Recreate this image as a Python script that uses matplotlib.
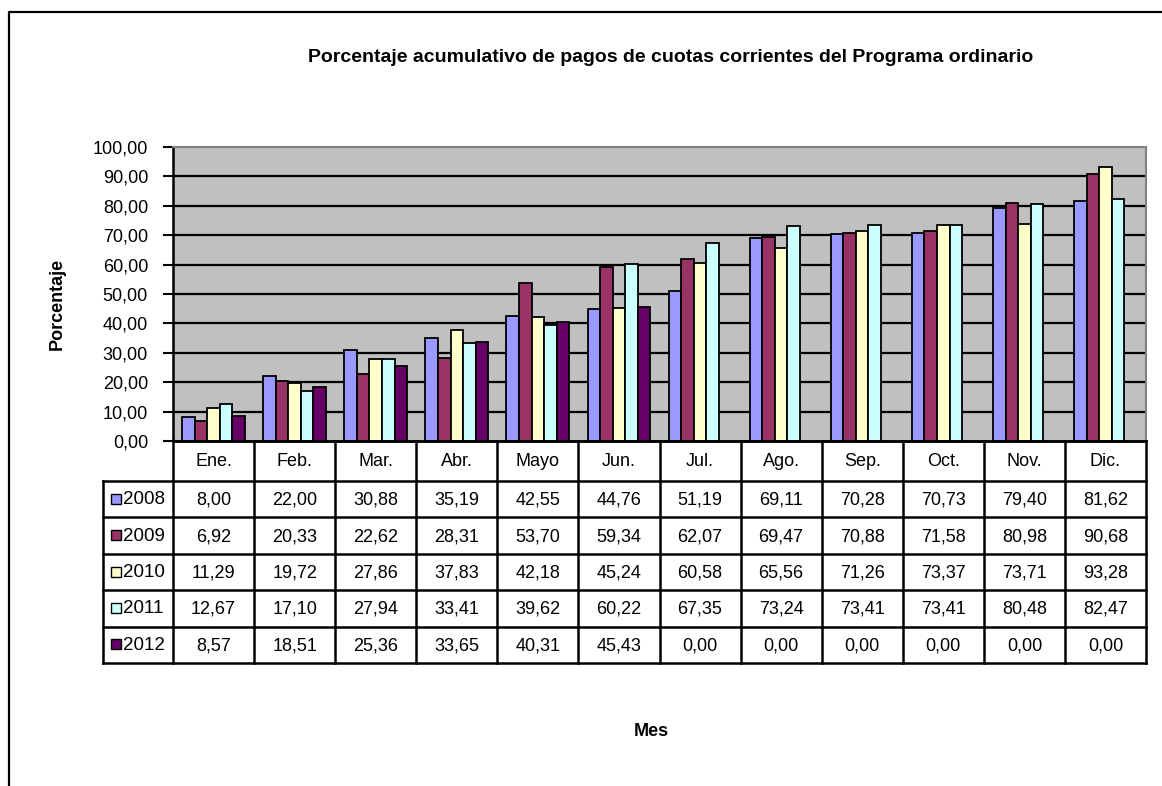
import matplotlib
matplotlib.use("Agg")
import matplotlib.pyplot as plt
import numpy as np
from matplotlib.lines import Line2D
from matplotlib.patches import Rectangle

plt.rcParams["font.family"] = ["Liberation Sans", "DejaVu Sans"]

months = ["Ene.", "Feb.", "Mar.", "Abr.", "Mayo", "Jun.", "Jul.", "Ago.",
          "Sep.", "Oct.", "Nov.", "Dic."]
years = ["2008", "2009", "2010", "2011", "2012"]
v2008 = [8.00, 22.00, 30.88, 35.19, 42.55, 44.76, 51.19, 69.11, 70.28, 70.73, 79.40, 81.62]
v2009 = [6.92, 20.33, 22.62, 28.31, 53.70, 59.34, 62.07, 69.47, 70.88, 71.58, 80.98, 90.68]
v2010 = [11.29, 19.72, 27.86, 37.83, 42.18, 45.24, 60.58, 65.56, 71.26, 73.37, 73.71, 93.28]
v2011 = [12.67, 17.10, 27.94, 33.41, 39.62, 60.22, 67.35, 73.24, 73.41, 73.41, 80.48, 82.47]
v2012 = [8.57, 18.51, 25.36, 33.65, 40.31, 45.43, 0.00, 0.00, 0.00, 0.00, 0.00, 0.00]
series = [v2008, v2009, v2010, v2011, v2012]
colors = ["#9999FF", "#993366", "#FFFFCC", "#CCFFFF", "#660066"]
yticks = np.arange(0, 101, 10)

W, H = 1162, 786
fig = plt.figure(figsize=(W / 100, H / 100), dpi=100)


def px_box(x0, y0, x1, y1):
    return [x0 / W, 1 - y1 / H, (x1 - x0) / W, (y1 - y0) / H]


# main plot area
ax = fig.add_axes(px_box(173, 147, 1146, 441))
ax.set_facecolor("#C0C0C0")
x = np.arange(len(months))
bw = 0.155
for k, (vals, col) in enumerate(zip(series, colors)):
    vals = np.array(vals, dtype=float)
    vals[vals == 0] = np.nan
    ax.bar(x + (k - 2) * bw, vals, width=bw, color=col, edgecolor="black",
           linewidth=1.3, zorder=3)
ax.set_xlim(-0.5, len(months) - 0.5)
ax.set_ylim(0, 100)
ax.set_yticks(yticks)
ax.set_yticklabels([f"{t:.2f}".replace(".", ",") for t in yticks], fontsize=13)
ax.set_xticks([])
for t in yticks[1:-1]:
    ax.axhline(t, color="black", lw=1.6, zorder=1)
ax.tick_params(axis="y", direction="out", length=7, width=1.5, pad=11)
for side in ["top", "right"]:
    ax.spines[side].set_color("#808080")
    ax.spines[side].set_linewidth(1.5)
ax.spines["left"].set_linewidth(1.8)
ax.spines["bottom"].set_linewidth(1.8)

# data table
cw = 973 / 12
lab_w = 70 / cw
tx = fig.add_axes(px_box(103, 441, 1146, 663))
tx.set_xlim(-0.5 - lab_w, len(months) - 0.5)
tx.set_ylim(222, 0)
tx.axis("off")
rows = [0, 40] + [40 + 36.4 * (i + 1) for i in range(len(years))]
lw = 1.8
for i, yb in enumerate(rows):
    x0 = -0.5 if i == 0 else -0.5 - lab_w
    tx.add_line(Line2D([x0, len(months) - 0.5], [yb, yb], color="black", lw=lw,
                       clip_on=False))
for k in range(len(months) + 1):
    tx.add_line(Line2D([k - 0.5, k - 0.5], [0, 222], color="black", lw=lw,
                       clip_on=False))
tx.add_line(Line2D([-0.5 - lab_w] * 2, [40, 222], color="black", lw=lw, clip_on=False))
for i, m in enumerate(months):
    tx.text(i, 21, m, ha="center", va="center", fontsize=13)
sq = 10 / cw
for r, (yr, vals, col) in enumerate(zip(years, series, colors)):
    yc = (rows[r + 1] + rows[r + 2]) / 2
    tx.add_patch(Rectangle((-0.5 - lab_w + 7.5 / cw, yc - 5.5), sq, 10,
                           facecolor=col, edgecolor="black", lw=1.0, clip_on=False))
    tx.text(-0.5 - lab_w + 20 / cw, yc + 0.5, yr, ha="left", va="center", fontsize=13.5)
    for i, v in enumerate(vals):
        tx.text(i, yc + 1, f"{v:.2f}".replace(".", ","), ha="center", va="center",
                fontsize=13)

# titles
fig.text(671 / W, 1 - 58 / H,
         "Porcentaje acumulativo de pagos de cuotas corrientes del Programa ordinario",
         ha="center", va="center", fontsize=14, fontweight="bold")
fig.text(57 / W, 1 - 304 / H, "Porcentaje", ha="center", va="center",
         rotation=90, fontsize=13, fontweight="bold")
fig.text(651 / W, 1 - 731 / H, "Mes", ha="center", va="center",
         fontsize=13, fontweight="bold")

# outer chart border
fig.add_artist(Line2D([9 / W, 9 / W, 1.0], [0.0, 1 - 12 / H, 1 - 12 / H],
                      transform=fig.transFigure, color="black", lw=1.6))

fig.savefig("out.png", dpi=100)
